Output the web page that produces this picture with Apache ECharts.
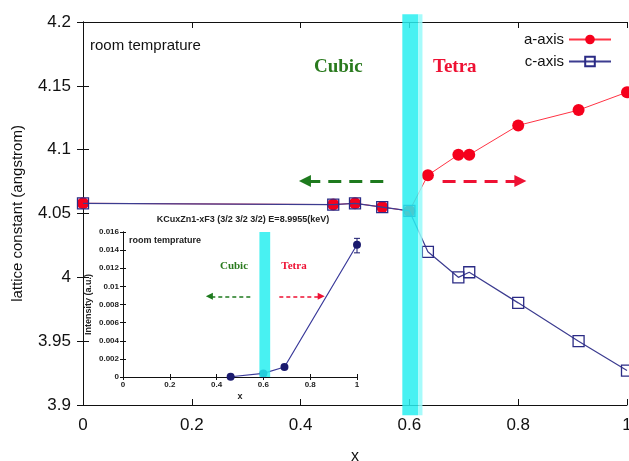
<!DOCTYPE html>
<html>
<head>
<meta charset="utf-8">
<script src="https://cdn.jsdelivr.net/npm/echarts@6/dist/echarts.min.js"></script>
<style>
  html, body { margin: 0; padding: 0; background: #fff; }
  #chart { width: 629px; height: 461px; }
</style>
</head>
<body>
<div id="chart"></div>
<script>
// main plot: lattice constants vs x
var xMain = [0, 0.46, 0.5, 0.55, 0.6, 0.634, 0.69, 0.71, 0.8, 0.911, 1.0];
var aAxis = [4.058, 4.057, 4.058, 4.055, 4.052, 4.080, 4.096, 4.096, 4.119, 4.131, 4.145];
var cAxis = [4.058, 4.057, 4.058, 4.055, 4.052, 4.020, 4.000, 4.004, 3.980, 3.950, 3.927];

// inset: intensity vs x
var xInset = [0.46, 0.6, 0.69, 1.0];
var intensity = [0.00003, 0.0004, 0.0011, 0.0146];
var errX = [1.0];
var errLow = [0.0137];
var errHigh = [0.0153];

// transition band (x from, x to, y from, y to) and phase arrows
var bandMain = [[0.587, 0.616, 3.892, 4.206], [0.616, 0.624, 3.892, 4.206]];
var bandInset = [[0.583, 0.629, 0, 0.016]];
var arrowMainY = 4.0755;
var arrowMainGreen = [0.552, 0.408];
var arrowMainRed = [0.661, 0.804];
var arrowInsetY = 0.0089;
var arrowInsetGreen = [0.544, 0.369];
var arrowInsetRed = [0.668, 0.847];

var chart = echarts.init(document.getElementById('chart'));

function pairs(xs, ys) {
    return xs.map(function (x, i) { return [x, ys[i]]; });
}

var sans = 'Liberation Sans';
var serif = 'Liberation Serif';
var axisColor = '#111';
var green = '#1e7a1e';
var red = '#ee1133';
var bandColors = ['rgba(40,238,240,0.85)', 'rgba(150,250,250,0.85)'];

function frameAxis(gridIndex, position, min, max, interval, showLabel, labelOpt) {
    return {
        type: 'value',
        gridIndex: gridIndex,
        position: position,
        min: min,
        max: max,
        interval: interval,
        axisLine: { show: true, lineStyle: { color: axisColor, width: 1 } },
        axisTick: { show: true, inside: true, length: gridIndex === 0 ? 6 : 3, lineStyle: { color: axisColor } },
        splitLine: { show: false },
        axisLabel: Object.assign({ show: showLabel }, labelOpt || {})
    };
}

var mainLabel = { color: '#111', fontSize: 17, fontFamily: sans, margin: 12 };
var insetLabel = { color: '#222', fontSize: 8, fontWeight: 'bold', fontFamily: sans, margin: 4 };

var xA0 = frameAxis(0, 'bottom', 0, 1, 0.2, true, mainLabel);
xA0.name = 'x';
xA0.nameLocation = 'middle';
xA0.nameGap = 44;
xA0.nameTextStyle = { fontSize: 16, fontFamily: sans, color: '#111' };
var yA0 = frameAxis(0, 'left', 3.9, 4.2, 0.05, true, mainLabel);
yA0.name = 'lattice constant (angstrom)';
yA0.nameLocation = 'middle';
yA0.nameGap = 58;
yA0.nameTextStyle = { fontSize: 15, fontFamily: sans, color: '#111' };

var xA2 = frameAxis(1, 'bottom', 0, 1, 0.2, true, insetLabel);
xA2.name = 'x';
xA2.nameLocation = 'middle';
xA2.nameGap = 15;
xA2.nameTextStyle = { fontSize: 9, fontWeight: 'bold', fontFamily: sans, color: '#222' };
var yA2 = frameAxis(1, 'left', 0, 0.016, 0.002, true, insetLabel);
yA2.name = 'Intensity (a.u.)';
yA2.nameLocation = 'middle';
yA2.nameGap = 30;
yA2.nameTextStyle = { fontSize: 9, fontWeight: 'bold', fontFamily: sans, color: '#222' };

function arrowLine(y, xs, color, width, dash, head) {
    return [
        { coord: [xs[0], y], symbol: 'none', lineStyle: { color: color, width: width, type: dash } },
        { coord: [xs[1], y], symbol: 'triangle', symbolSize: head, itemStyle: { color: color } }
    ];
}

// band drawn as a custom series so it may run past the frame like in the original
function bandItem(params, api) {
    var p0 = api.coord([api.value(0), api.value(3)]);
    var p1 = api.coord([api.value(1), api.value(2)]);
    return {
        type: 'rect',
        shape: { x: p0[0], y: p0[1], width: p1[0] - p0[0], height: p1[1] - p0[1] },
        style: { fill: bandColors[params.dataIndex] },
        silent: true
    };
}

var option = {
    backgroundColor: '#fff',
    animation: false,
    grid: [
        { left: 83, right: 2, top: 22, bottom: 56, outerBoundsMode: 'none', containLabel: false },
        { left: 123, right: 272, top: 232, bottom: 84, outerBoundsMode: 'none', containLabel: false, show: true, backgroundColor: '#fff', borderWidth: 0 }
    ],
    xAxis: [
        xA0,
        frameAxis(0, 'top', 0, 1, 0.2, false),
        xA2,
        frameAxis(1, 'top', 0, 1, 0.2, false)
    ],
    yAxis: [
        yA0,
        frameAxis(0, 'right', 3.9, 4.2, 0.05, false),
        yA2,
        frameAxis(1, 'right', 0, 0.016, 0.002, false)
    ],
    legend: {
        data: ['a-axis', 'c-axis'],
        orient: 'vertical',
        right: 12,
        top: 27,
        align: 'right',
        itemWidth: 42,
        itemHeight: 12,
        itemGap: 7,
        textStyle: { fontSize: 15, fontFamily: sans, color: '#111' }
    },
    graphic: [
        { type: 'text', left: 90, top: 38, style: { text: 'room temprature', fontSize: 15, fontFamily: sans, fill: '#111' } },
        { type: 'text', left: 314, top: 58, style: { text: 'Cubic', fontSize: 19, fontWeight: 'bold', fontFamily: serif, fill: '#2a7a1e' } },
        { type: 'text', left: 433, top: 58, style: { text: 'Tetra', fontSize: 19, fontWeight: 'bold', fontFamily: serif, fill: red } },
        { type: 'text', x: 243, y: 215, style: { text: 'KCuxZn1-xF3 (3/2 3/2 3/2) E=8.9955(keV)', fontSize: 9, fontWeight: 'bold', fontFamily: sans, fill: '#222', textAlign: 'center' } },
        { type: 'text', left: 129, top: 236, z: 20, style: { text: 'room temprature', fontSize: 9, fontWeight: 'bold', fontFamily: sans, fill: '#222' } },
        { type: 'text', x: 234, y: 261, z: 20, style: { text: 'Cubic', fontSize: 11, fontWeight: 'bold', fontFamily: serif, fill: '#2a7a1e', textAlign: 'center' } },
        { type: 'text', x: 294, y: 261, z: 20, style: { text: 'Tetra', fontSize: 11, fontWeight: 'bold', fontFamily: serif, fill: red, textAlign: 'center' } }
    ],
    series: [
        {
            name: 'a-axis',
            type: 'line',
            xAxisIndex: 0,
            yAxisIndex: 0,
            data: pairs(xMain, aAxis),
            symbol: 'circle',
            symbolSize: 12,
            itemStyle: { color: '#f5001c' },
            lineStyle: { color: '#ff3344', width: 1 },
            z: 2
        },
        {
            name: 'c-axis',
            type: 'line',
            xAxisIndex: 0,
            yAxisIndex: 0,
            data: pairs(xMain, cAxis),
            symbol: 'rect',
            symbolSize: 11,
            itemStyle: { color: 'rgba(0,0,0,0)', borderColor: '#2b2b85', borderWidth: 1.3 },
            lineStyle: { color: '#3c3c90', width: 1.2 },
            z: 3
        },
        {
            name: 'bandMain',
            type: 'custom',
            xAxisIndex: 0,
            yAxisIndex: 0,
            data: bandMain,
            clip: false,
            silent: true,
            z: 5,
            renderItem: bandItem
        },
        {
            name: 'arrowsMain',
            type: 'line',
            xAxisIndex: 0,
            yAxisIndex: 0,
            data: [],
            silent: true,
            z: 5,
            markLine: {
                silent: true,
                label: { show: false },
                data: [
                    arrowLine(arrowMainY, arrowMainGreen, green, 3, [13, 8], 12),
                    arrowLine(arrowMainY, arrowMainRed, red, 3, [13, 8], 12)
                ]
            }
        },
        {
            name: 'intensity',
            type: 'line',
            xAxisIndex: 2,
            yAxisIndex: 2,
            data: pairs(xInset, intensity),
            symbol: 'circle',
            symbolSize: 8,
            itemStyle: { color: '#1a1a6e' },
            lineStyle: { color: '#3a3a9a', width: 1.2 },
            z: 12
        },
        {
            name: 'err',
            type: 'custom',
            xAxisIndex: 2,
            yAxisIndex: 2,
            data: errX.map(function (x, i) { return [x, errLow[i], errHigh[i]]; }),
            z: 12,
            renderItem: function (params, api) {
                var lo = api.coord([api.value(0), api.value(1)]);
                var hi = api.coord([api.value(0), api.value(2)]);
                var st = { stroke: '#1a1a6e', lineWidth: 1 };
                return {
                    type: 'group',
                    children: [
                        { type: 'line', shape: { x1: lo[0], y1: lo[1], x2: hi[0], y2: hi[1] }, style: st },
                        { type: 'line', shape: { x1: lo[0] - 3, y1: lo[1], x2: lo[0] + 3, y2: lo[1] }, style: st },
                        { type: 'line', shape: { x1: hi[0] - 3, y1: hi[1], x2: hi[0] + 3, y2: hi[1] }, style: st }
                    ]
                };
            }
        },
        {
            name: 'bandInset',
            type: 'custom',
            xAxisIndex: 2,
            yAxisIndex: 2,
            data: bandInset,
            silent: true,
            z: 14,
            renderItem: bandItem
        },
        {
            name: 'arrowsInset',
            type: 'line',
            xAxisIndex: 2,
            yAxisIndex: 2,
            data: [],
            silent: true,
            z: 14,
            markLine: {
                silent: true,
                label: { show: false },
                data: [
                    arrowLine(arrowInsetY, arrowInsetGreen, green, 1.5, [4, 3], 7),
                    arrowLine(arrowInsetY, arrowInsetRed, red, 1.5, [4, 3], 7)
                ]
            }
        }
    ]
};

chart.setOption(option);
</script>
</body>
</html>
